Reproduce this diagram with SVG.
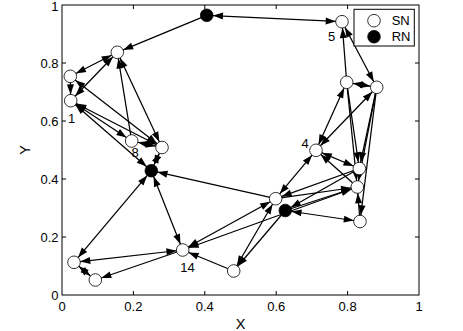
<svg xmlns="http://www.w3.org/2000/svg" width="463" height="331" viewBox="0 0 463 331">
<style>
text { font-family: "Liberation Sans", Arial, sans-serif; font-size: 13px; fill: #000; }
.axis { fill: none; stroke: #000; stroke-width: 1; }
.tick { stroke: #000; stroke-width: 1; }
.e line { stroke: #000; stroke-width: 1.25; }
.one { marker-end: url(#ah); }
.two { marker-start: url(#ah); marker-end: url(#ah); }
.sn { fill: #fff; stroke: #000; stroke-width: 0.8; }
.rn { fill: #000; stroke: #000; stroke-width: 0.8; }
.title { font-size: 14.5px; }
</style>
<defs>
<marker id="ah" markerUnits="userSpaceOnUse" markerWidth="10" markerHeight="7" refX="16.3" refY="3.5" orient="auto-start-reverse" overflow="visible">
<path d="M0,0 L10,3.5 L0,7 z" fill="#000"/>
</marker>
</defs>
<rect width="463" height="331" fill="#fff"/>
<g id="axes">
<rect class="axis" x="62" y="5" width="357" height="290"/>
<g class="tick">
<line x1="133.4" y1="295" x2="133.4" y2="291"/><line x1="204.8" y1="295" x2="204.8" y2="291"/><line x1="276.2" y1="295" x2="276.2" y2="291"/><line x1="347.6" y1="295" x2="347.6" y2="291"/>
<line x1="133.4" y1="5" x2="133.4" y2="9"/><line x1="204.8" y1="5" x2="204.8" y2="9"/><line x1="276.2" y1="5" x2="276.2" y2="9"/><line x1="347.6" y1="5" x2="347.6" y2="9"/>
<line x1="62" y1="237" x2="66" y2="237"/><line x1="62" y1="179" x2="66" y2="179"/><line x1="62" y1="121" x2="66" y2="121"/><line x1="62" y1="63" x2="66" y2="63"/>
<line x1="419" y1="237" x2="415" y2="237"/><line x1="419" y1="179" x2="415" y2="179"/><line x1="419" y1="121" x2="415" y2="121"/><line x1="419" y1="63" x2="415" y2="63"/>
</g>
<g text-anchor="middle">
<text x="62" y="311">0</text><text x="133.4" y="311">0.2</text><text x="204.8" y="311">0.4</text><text x="276.2" y="311">0.6</text><text x="347.6" y="311">0.8</text><text x="419" y="311">1</text>
</g>
<g text-anchor="end">
<text x="58.5" y="300">0</text><text x="58.5" y="241.7">0.2</text><text x="58.5" y="183.7">0.4</text><text x="58.5" y="125.7">0.6</text><text x="58.5" y="67.7">0.8</text><text x="58.5" y="10.5">1</text>
</g>
<text class="title" x="240.5" y="329" text-anchor="middle">X</text>
<text class="title" transform="translate(30,150) rotate(-90)" text-anchor="middle">Y</text>
</g>
<g id="connectors" class="e">
<line class="two" x1="206.7" y1="15.3" x2="342" y2="21.7"/>
<line class="one" x1="206.7" y1="15.3" x2="117.3" y2="52.3"/>
<line class="two" x1="117.3" y1="52.3" x2="70.3" y2="76.3"/>
<line class="two" x1="70.7" y1="100.7" x2="117.3" y2="52.3"/>
<line class="one" x1="70.3" y1="76.3" x2="70.7" y2="100.7"/>
<line class="one" x1="131.7" y1="141" x2="117.3" y2="52.3"/>
<line class="two" x1="117.3" y1="52.3" x2="162" y2="147.5"/>
<line class="two" x1="70.3" y1="76.3" x2="162" y2="147.5"/>
<line class="two" x1="70.7" y1="100.7" x2="131.7" y2="141"/>
<line class="two" x1="70.7" y1="100.7" x2="162" y2="147.5"/>
<line class="two" x1="70.7" y1="100.7" x2="151.3" y2="170.7"/>
<line class="two" x1="131.7" y1="141" x2="162" y2="147.5"/>
<line class="two" x1="162" y1="147.5" x2="151.3" y2="170.7"/>
<line class="two" x1="151.3" y1="170.7" x2="74" y2="262.3"/>
<line class="two" x1="151.3" y1="170.7" x2="182.7" y2="250"/>
<line class="one" x1="275.7" y1="198.7" x2="151.3" y2="170.7"/>
<line class="two" x1="74" y1="262.3" x2="182.7" y2="250"/>
<line class="two" x1="74" y1="262.3" x2="95.3" y2="280"/>
<line class="one" x1="182.7" y1="250" x2="95.3" y2="280"/>
<line class="one" x1="233.7" y1="271" x2="182.7" y2="250"/>
<line class="two" x1="182.7" y1="250" x2="275.7" y2="198.7"/>
<line class="two" x1="182.7" y1="250" x2="357.3" y2="187"/>
<line class="two" x1="233.7" y1="271" x2="275.7" y2="198.7"/>
<line class="one" x1="285.3" y1="210.5" x2="233.7" y2="271"/>
<line class="two" x1="316" y1="150.3" x2="275.7" y2="198.7"/>
<line class="two" x1="316" y1="150.3" x2="359.3" y2="168.5"/>
<line class="one" x1="357.3" y1="187" x2="316" y2="150.3"/>
<line class="two" x1="316" y1="150.3" x2="346.7" y2="82.3"/>
<line class="two" x1="316" y1="150.3" x2="376.7" y2="87.3"/>
<line class="one" x1="346.7" y1="82.3" x2="342" y2="21.7"/>
<line class="two" x1="342" y1="21.7" x2="376.7" y2="87.3"/>
<line class="two" x1="346.7" y1="82.3" x2="376.7" y2="87.3"/>
<line class="one" x1="346.7" y1="82.3" x2="359.3" y2="168.5"/>
<line class="one" x1="346.7" y1="82.3" x2="357.3" y2="187"/>
<line class="one" x1="376.7" y1="87.3" x2="359.3" y2="168.5"/>
<line class="one" x1="376.7" y1="87.3" x2="357.3" y2="187"/>
<line class="one" x1="376.7" y1="87.3" x2="360" y2="221.5"/>
<line class="one" x1="360" y1="221.5" x2="357.3" y2="187"/>
<line class="one" x1="359.3" y1="168.5" x2="275.7" y2="198.7"/>
<line class="one" x1="359.3" y1="168.5" x2="285.3" y2="210.5"/>
<line class="one" x1="275.7" y1="198.7" x2="357.3" y2="187"/>
<line class="one" x1="285.3" y1="210.5" x2="357.3" y2="187"/>
<line class="two" x1="285.3" y1="210.5" x2="360" y2="221.5"/>
</g>
<g id="node-rn-top"><circle class="rn" cx="206.7" cy="15.3" r="6.3"/></g>
<g id="node-5"><circle class="sn" cx="342" cy="21.7" r="6.3"/><text x="331.7" y="41" text-anchor="middle">5</text></g>
<g id="node-a"><circle class="sn" cx="117.3" cy="52.3" r="6.3"/></g>
<g id="node-b"><circle class="sn" cx="70.3" cy="76.3" r="6.3"/></g>
<g id="node-1"><circle class="sn" cx="70.7" cy="100.7" r="6.3"/><text x="71.7" y="123.3" text-anchor="middle">1</text></g>
<g id="node-8"><circle class="sn" cx="131.7" cy="141" r="6.3"/><text x="135" y="157.3" text-anchor="middle">8</text></g>
<g id="node-c"><circle class="sn" cx="162" cy="147.5" r="6.3"/></g>
<g id="node-rn-mid"><circle class="rn" cx="151.3" cy="170.7" r="6.3"/></g>
<g id="node-d"><circle class="sn" cx="346.7" cy="82.3" r="6.3"/></g>
<g id="node-e"><circle class="sn" cx="376.7" cy="87.3" r="6.3"/></g>
<g id="node-4"><circle class="sn" cx="316" cy="150.3" r="6.3"/><text x="305" y="147.7" text-anchor="middle">4</text></g>
<g id="node-f"><circle class="sn" cx="359.3" cy="168.5" r="6.3"/></g>
<g id="node-g"><circle class="sn" cx="357.3" cy="187" r="6.3"/></g>
<g id="node-h"><circle class="sn" cx="360" cy="221.5" r="6.3"/></g>
<g id="node-i"><circle class="sn" cx="275.7" cy="198.7" r="6.3"/></g>
<g id="node-rn-right"><circle class="rn" cx="285.3" cy="210.5" r="6.3"/></g>
<g id="node-k"><circle class="sn" cx="233.7" cy="271" r="6.3"/></g>
<g id="node-14"><circle class="sn" cx="182.7" cy="250" r="6.3"/><text x="187.5" y="271.7" text-anchor="middle">14</text></g>
<g id="node-l"><circle class="sn" cx="74" cy="262.3" r="6.3"/></g>
<g id="node-m"><circle class="sn" cx="95.3" cy="280" r="6.3"/></g>
<g id="legend">
<rect x="354" y="9.3" width="60.3" height="36.7" fill="#fff" stroke="#000" stroke-width="1"/>
<circle class="sn" cx="374" cy="20.7" r="6.3"/>
<circle class="rn" cx="374" cy="36.7" r="6.3"/>
<text x="391.7" y="25.3">SN</text>
<text x="391.7" y="41.3">RN</text>
</g>
</svg>
